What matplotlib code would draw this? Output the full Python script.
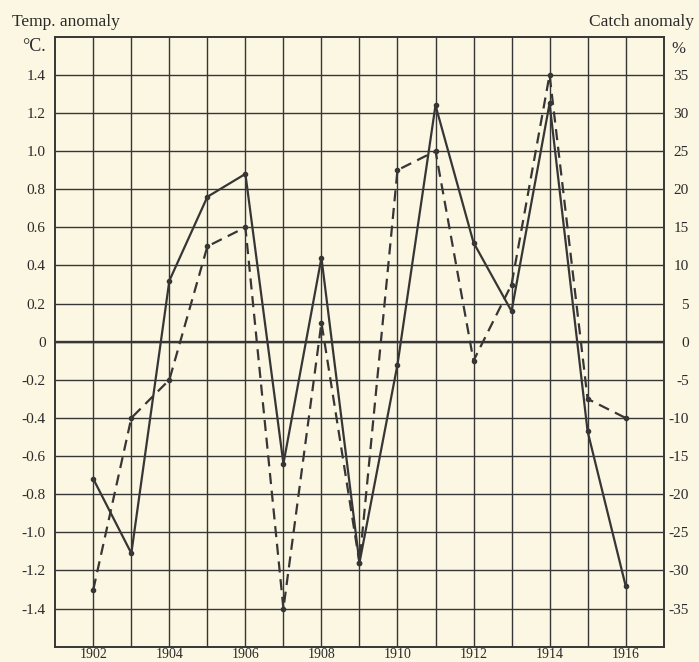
import matplotlib.pyplot as plt

# data
years = list(range(1902, 1917))
temp_anomaly = [-0.72, -1.11, 0.32, 0.76, 0.88, -0.64, 0.44, -1.16,
                -0.12, 1.24, 0.52, 0.16, 1.25, -0.47, -1.28]
catch_anomaly = [-32.5, -10, -5, 12.5, 15, -35, 2.5, -29,
                 22.5, 25, -2.5, 7.5, 35, -7.5, -10]
temp_ticks = [1.4, 1.2, 1.0, 0.8, 0.6, 0.4, 0.2, 0, -0.2, -0.4, -0.6,
              -0.8, -1.0, -1.2, -1.4]
temp_tick_labels = ['1.4', '1.2', '1.0', '0.8', '0.6', '0.4', '0.2', '0',
                    '-0.2', '-0.4', '-0.6', '-0.8', '-1.0', '-1.2', '-1.4']
catch_ticks = [35, 30, 25, 20, 15, 10, 5, 0, -5, -10, -15, -20, -25, -30, -35]
catch_tick_labels = [str(v) if v >= 0 else '-' + str(-v) for v in catch_ticks]

paper = '#fcf7e2'
ink = '#363636'

plt.rcParams['font.family'] = ['Liberation Serif', 'DejaVu Serif']

fig = plt.figure(figsize=(6.99, 6.62), dpi=100, facecolor=paper)
ax = fig.add_axes([0.0791, 0.0231, 0.8703, 0.9215], facecolor=paper)

# solid line: temperature
ax.plot(years, temp_anomaly, color=ink, lw=1.6, marker='o', ms=3,
        zorder=4)
ax.axhline(0, color=ink, lw=1.7, zorder=3)

ax.set_xlim(1901, 1917)
ax.set_ylim(-1.6, 1.6)
ax.set_xticks(years)
ax.set_xticklabels([str(y) if y % 2 == 0 else '' for y in years])
ax.set_yticks(temp_ticks)
ax.set_yticklabels(temp_tick_labels)
ax.grid(True, color=ink, lw=1.0, zorder=1)
ax.set_axisbelow(True)
ax.tick_params(axis='both', length=0, labelsize=11, colors='#2a2a2a')
ax.tick_params(axis='y', pad=7)
ax.tick_params(axis='x', pad=1, labelsize=10)
for s in ax.spines.values():
    s.set_color(ink)
    s.set_linewidth(1.4)

# dashed line: catch, right axis
ax2 = ax.twinx()
ax2.plot(years, catch_anomaly, color=ink, lw=1.6, ls=(0, (5, 3)),
         marker='o', ms=3, zorder=4)
ax2.set_ylim(-40, 40)
ax2.set_yticks(catch_ticks)
ax2.set_yticklabels(catch_tick_labels)
ax2.tick_params(axis='y', length=0, labelsize=11, colors='#2a2a2a', pad=18)
for lab in ax2.get_yticklabels():
    lab.set_horizontalalignment('right')
for s in ax2.spines.values():
    s.set_visible(False)

# axis titles
fig.text(0.017, 0.967, 'Temp. anomaly', fontsize=12.5, color='#2a2a2a',
         ha='left', va='center')
fig.text(0.031, 0.930, '°C.', fontsize=13, color='#2a2a2a',
         ha='left', va='center')
fig.text(0.993, 0.967, 'Catch anomaly', fontsize=12.5, color='#2a2a2a',
         ha='right', va='center')
fig.text(0.970, 0.926, '%', fontsize=12, color='#2a2a2a',
         ha='center', va='center')

plt.savefig('out.png', dpi=100, facecolor=paper)
